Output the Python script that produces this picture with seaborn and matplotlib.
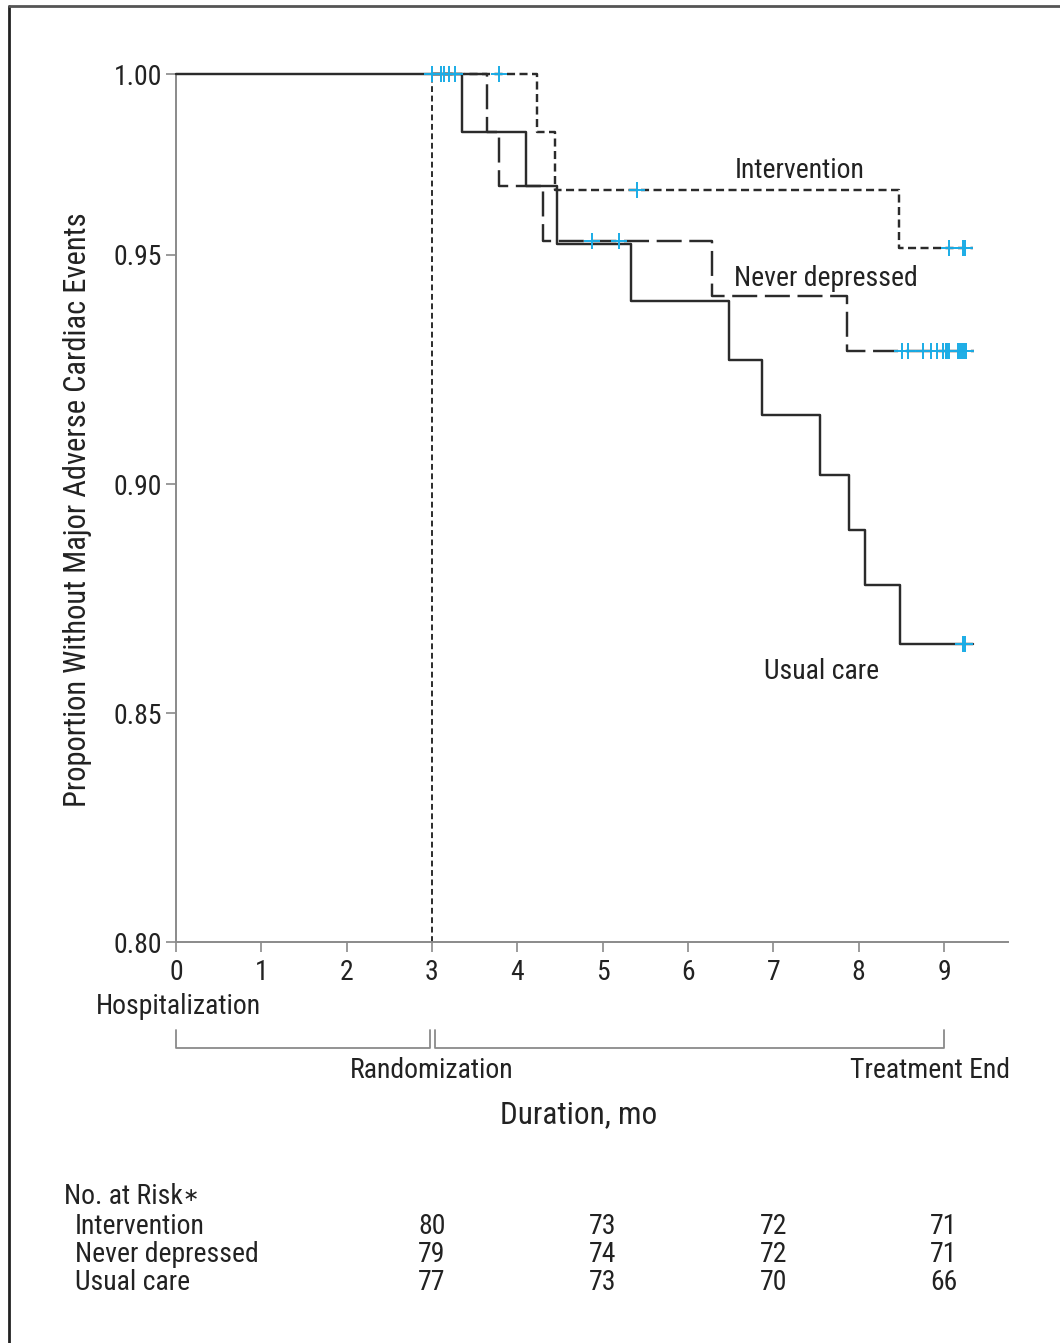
import numpy as np
import matplotlib
matplotlib.use("Agg")
import matplotlib.pyplot as plt
import seaborn as sns
from matplotlib import font_manager as fm
from matplotlib.lines import Line2D
import matplotlib.transforms as mtransforms

# ---------------- data ----------------
int_times = [3.00, 4.23, 4.44, 8.47, 9.34]
int_surv = [1.000, 0.984, 0.968, 0.952, 0.952]

nd_times = [3.00, 3.65, 3.79, 4.30, 6.28, 7.86, 9.35]
nd_surv = [1.000, 0.984, 0.969, 0.954, 0.941, 0.929, 0.929]

uc_times = [0.00, 3.35, 4.10, 4.47, 5.33, 6.48, 6.87, 7.55, 7.89, 8.07, 8.48, 9.34]
uc_surv = [1.000, 0.984, 0.969, 0.953, 0.940, 0.927, 0.915, 0.902, 0.890, 0.878, 0.865, 0.865]

int_cens_t = [3.00, 3.79, 5.40, 9.06, 9.22, 9.25]
int_cens_s = [1.000, 1.000, 0.968, 0.952, 0.952, 0.952]
nd_cens_t = [3.10, 3.14, 4.88, 5.19, 8.51, 8.58, 8.75, 8.85, 8.92, 8.99, 9.02,
             9.04, 9.06, 9.16, 9.19, 9.21, 9.24, 9.26]
nd_cens_s = [1.000, 1.000, 0.954, 0.954, 0.929, 0.929, 0.929, 0.929, 0.929, 0.929,
             0.929, 0.929, 0.929, 0.929, 0.929, 0.929, 0.929, 0.929]
uc_cens_t = [3.20, 3.27, 9.22, 9.25]
uc_cens_s = [1.000, 1.000, 0.865, 0.865]

y_ticks = [0.80, 0.85, 0.90, 0.95, 1.00]
y_tick_labels = ["0.80", "0.85", "0.90", "0.95", "1.00"]
x_ticks = [0, 1, 2, 3, 4, 5, 6, 7, 8, 9]

group_names = ["Intervention", "Never depressed", "Usual care"]
risk_times = [3, 5, 7, 9]
risk_int = [80, 73, 72, 71]
risk_nd = [79, 74, 72, 71]
risk_uc = [77, 73, 70, 66]

# ---------------- style ----------------
sns.set_style("ticks")

names = {f.name for f in fm.fontManager.ttflist}
narrow = None
stretch = "normal"
for cand in ["Liberation Sans Narrow", "Roboto Condensed", "Open Sans Condensed",
             "Noto Sans Condensed", "DejaVu Sans Condensed"]:
    if cand in names:
        narrow = cand
        break
if narrow is None:
    for f in fm.fontManager.ttflist:
        if "condensed" in f.fname.lower() and "bold" not in f.fname.lower() \
                and "oblique" not in f.fname.lower() and "italic" not in f.fname.lower():
            narrow = f.name
            stretch = "condensed"
            break
if narrow is None:
    narrow = "Roboto"
    FS = 17
else:
    FS = 20

plt.rcParams["font.family"] = [narrow, "DejaVu Sans"]
plt.rcParams["font.stretch"] = stretch
plt.rcParams["lines.scale_dashes"] = False

W, H = 1060, 1343
fig = plt.figure(figsize=(W / 100, H / 100), dpi=100)
fig.patch.set_facecolor("white")

ax_left, ax_right = 176, 1008
ax_top, ax_bot = 74.3, 942.3
ax = fig.add_axes([ax_left / W, 1 - ax_bot / H, (ax_right - ax_left) / W, (ax_bot - ax_top) / H])

# piecewise-linear y scale (upper interval compressed as in the reference)
K = 0.7887


def fwd(y):
    y = np.asarray(y, dtype=float)
    return np.where(y > 0.95, 0.95 + (y - 0.95) * K, y)


def inv(z):
    z = np.asarray(z, dtype=float)
    return np.where(z > 0.95, 0.95 + (z - 0.95) / K, z)


ax.set_yscale("function", functions=(fwd, inv))

LINE = "#2b2b2b"
BLUE = "#1AACE6"
GRAY = "#8a8a8a"
TXT = "#222222"

# vertical randomization line
ax.axvline(3, ymin=0, ymax=1, color=LINE, lw=1.4, linestyle=(0, (4.2, 2.6)), zorder=2)

# curves
sns.lineplot(x=uc_times, y=uc_surv, drawstyle="steps-post", estimator=None, sort=False,
             color=LINE, lw=1.75, ax=ax, zorder=3)
sns.lineplot(x=nd_times, y=nd_surv, drawstyle="steps-post", estimator=None, sort=False,
             color=LINE, lw=1.75, linestyle=(0, (18, 5.5)), ax=ax, zorder=3)
sns.lineplot(x=int_times, y=int_surv, drawstyle="steps-post", estimator=None, sort=False,
             color=LINE, lw=1.75, linestyle=(0, (5.8, 3.2)), ax=ax, zorder=3)

# censor marks
for ct, cs in [(int_cens_t, int_cens_s), (nd_cens_t, nd_cens_s), (uc_cens_t, uc_cens_s)]:
    sns.scatterplot(x=ct, y=cs, marker="+", s=125, color=BLUE, linewidth=1.4, ax=ax, zorder=5)

for ln in ax.lines:
    ln.set_clip_on(False)
for c in ax.collections:
    c.set_clip_on(False)

ax.set_xlim(0, 9.75)
ax.set_ylim(0.80, 1.00)
ax.set_xticks(x_ticks)
ax.set_xticklabels([str(v) for v in x_ticks])
ax.set_yticks(y_ticks)
ax.set_yticklabels(y_tick_labels)
ax.yaxis.set_minor_locator(matplotlib.ticker.NullLocator())
ax.set_xlabel("")
ax.set_ylabel("")

for side in ["top", "right"]:
    ax.spines[side].set_visible(False)
for side in ["left", "bottom"]:
    ax.spines[side].set_color(GRAY)
    ax.spines[side].set_linewidth(1.4)
ax.tick_params(axis="y", length=7, width=1.2, color=GRAY, pad=3, labelsize=FS, labelcolor=TXT)
ax.tick_params(axis="x", length=7, width=1.2, color=GRAY, pad=5, labelsize=FS, labelcolor=TXT)

# curve labels
ax.text(7.31, 0.9735, "Intervention", ha="center", va="center", fontsize=FS, color=TXT)
ax.text(7.61, 0.9448, "Never depressed", ha="center", va="center", fontsize=FS, color=TXT)
ax.text(7.57, 0.8592, "Usual care", ha="center", va="center", fontsize=FS, color=TXT)

# y label
fig.text(78 / W, 1 - 510 / H, "Proportion Without Major Adverse Cardiac Events",
         rotation=90, ha="center", va="center", fontsize=FS + 2, color=TXT)

# annotations below the axis
bt = mtransforms.blended_transform_factory(ax.transData, fig.transFigure)


def fy(py):
    return 1 - py / H


fig.text(0.03, fy(1007), "Hospitalization", transform=bt, ha="center", va="center",
         fontsize=FS, color=TXT)
fig.add_artist(Line2D([0, 0, 2.98, 2.98], [fy(1030), fy(1048), fy(1048), fy(1030)],
                      transform=bt, color=GRAY, lw=1.3))
fig.add_artist(Line2D([3.03, 3.03, 9, 9], [fy(1030), fy(1048), fy(1048), fy(1030)],
                      transform=bt, color=GRAY, lw=1.3))
fig.text(3.0, fy(1070), "Randomization", transform=bt, ha="center", va="center",
         fontsize=FS, color=TXT)
fig.text(9.77, fy(1070), "Treatment End", transform=bt, ha="right", va="center",
         fontsize=FS, color=TXT)
fig.text(579 / W, fy(1115), "Duration, mo", ha="center", va="center", fontsize=FS + 2.5,
         color=TXT)

# risk table
t_head = fig.text(64 / W, fy(1197), "No. at Risk", ha="left", va="center", fontsize=FS,
                  color=TXT)
ax.annotate("\u2217", xy=(1.0, 0.55), xycoords=t_head, ha="left", va="center",
            fontsize=FS - 6, color=TXT, annotation_clip=False)
row_y = [1226, 1254, 1282]
for name, vals, py in zip(group_names, [risk_int, risk_nd, risk_uc], row_y):
    fig.text(75 / W, fy(py), name, ha="left", va="center", fontsize=FS, color=TXT)
    for t, v in zip(risk_times, vals):
        fig.text(t, fy(py), str(v), transform=bt, ha="center", va="center", fontsize=FS,
                 color=TXT)

# outer frame (left and top edges)
fig.add_artist(Line2D([9 / W, 9 / W], [0, fy(6)], transform=fig.transFigure, color="#222222", lw=2))
fig.add_artist(Line2D([9 / W, 1], [fy(6), fy(6)], transform=fig.transFigure, color="#555555", lw=2))

fig.savefig("out.png", dpi=100, facecolor="white")
